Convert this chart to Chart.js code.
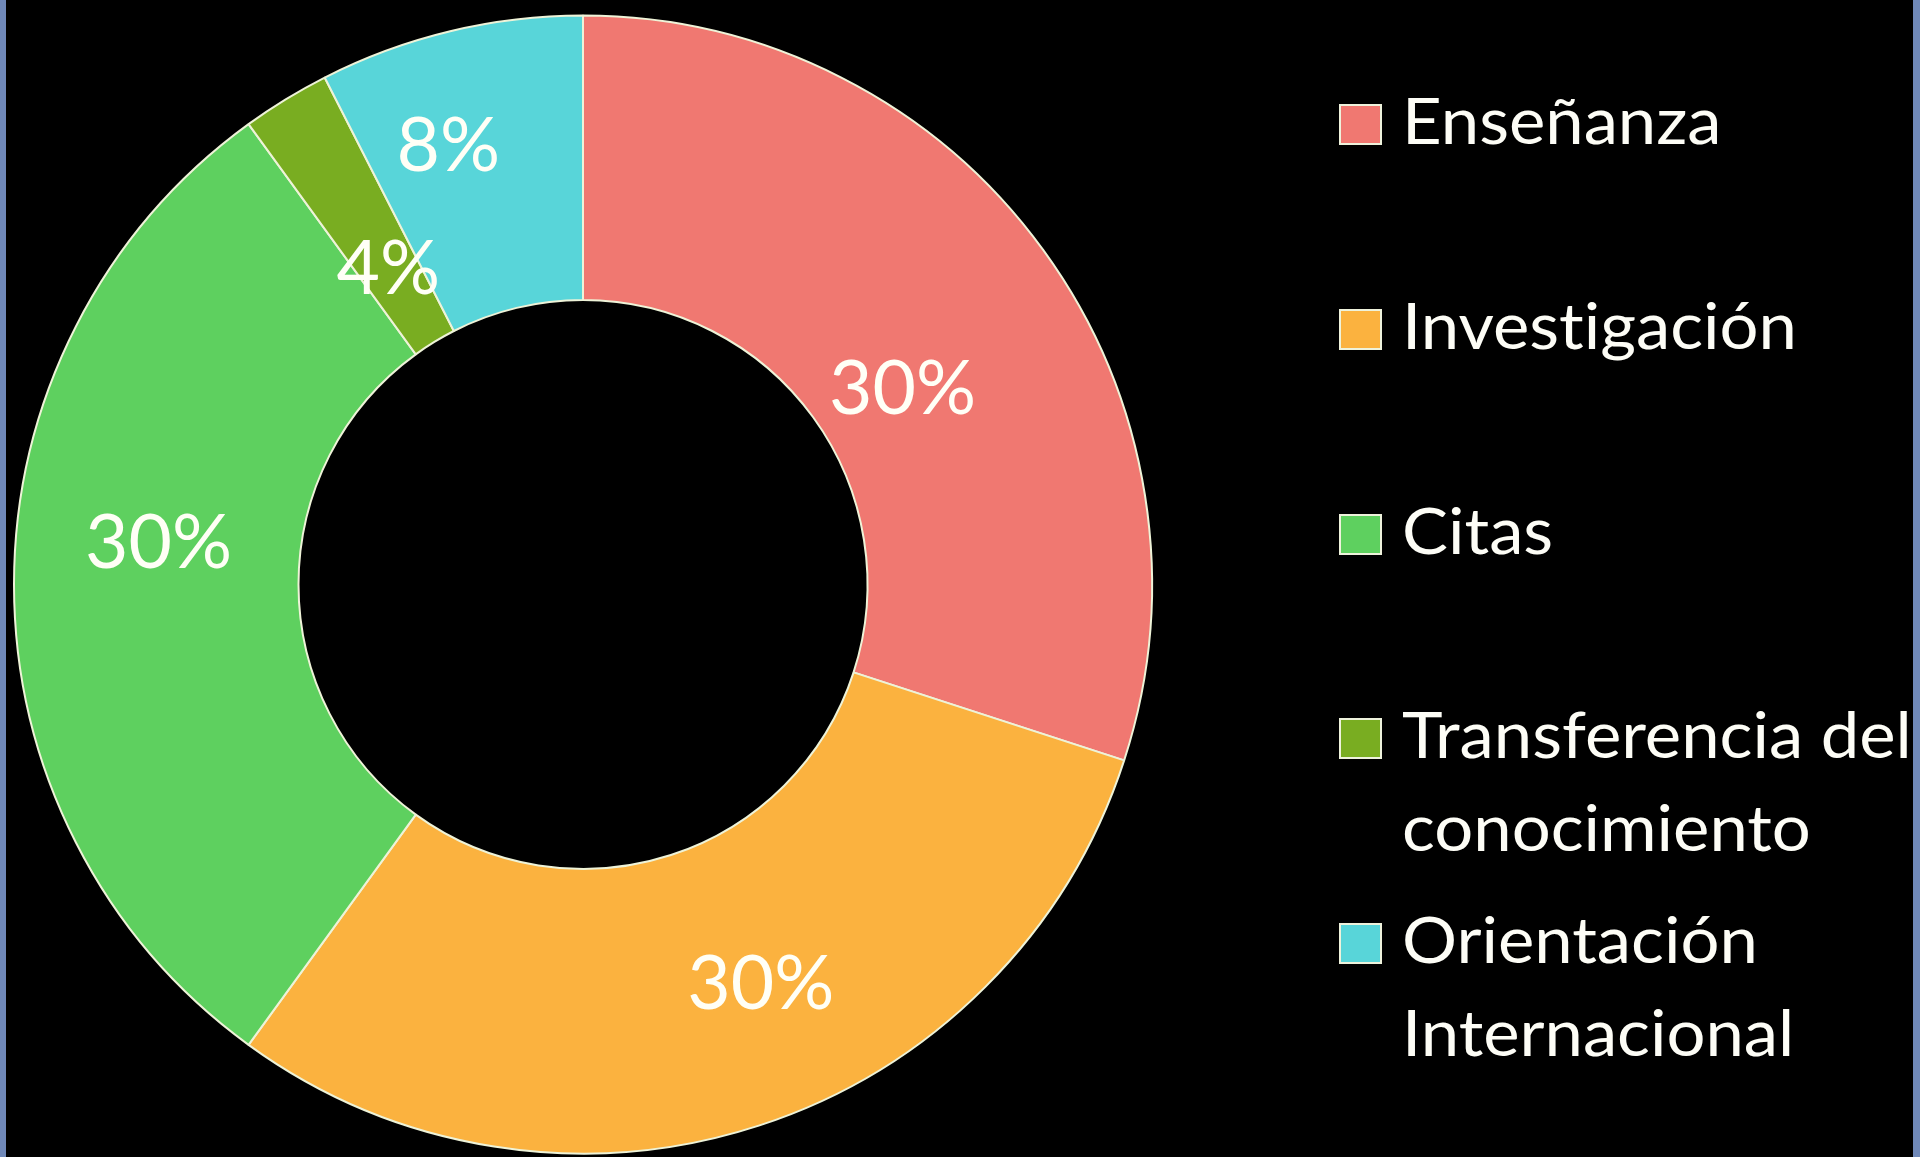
<!DOCTYPE html>
<html>
<head>
<meta charset="utf-8">
<script src="https://cdn.jsdelivr.net/npm/chart.js@4.4.1/dist/chart.umd.min.js"></script>
<style>
  html, body { margin:0; padding:0; background:#000; }
  #wrap { position:relative; width:1920px; height:1157px; background:#000; overflow:hidden; }
  #c { position:absolute; left:0; top:0; }
  .edge { position:absolute; top:0; height:1157px; background:#6f88b8; }
  .item { position:absolute; left:1339px; font-family:Lato, "Open Sans", sans-serif; color:#fdfdf6; }
  .sw { position:absolute; left:0; width:43px; height:41px; box-sizing:border-box; border:2px solid #eef2dc; }
  .tx { position:absolute; left:63px; font-size:64px; line-height:93px; white-space:nowrap; transform-origin:0 0; transform:scaleX(1.075); font-variant-ligatures:none; font-feature-settings:"liga" 0, "clig" 0; }
</style>
</head>
<body>
<div id="wrap">
  <canvas id="c" width="1920" height="1157"></canvas>
  <div class="edge" style="left:0;width:6px;"></div>
  <div class="edge" style="left:1913px;width:7px;"></div>
  <div id="legend"></div>
</div>
<script>
// ---- data ----
const categories = ["Enseñanza", "Investigación", "Citas", "Transferencia del conocimiento", "Orientación Internacional"];
const legendLines = [["Enseñanza"], ["Investigación"], ["Citas"], ["Transferencia del", "conocimiento"], ["Orientación", "Internacional"]];
const values = [30, 30, 30, 2.5, 7.5];
const valueLabels = ["30%", "30%", "30%", "4%", "8%"];
const colors = ["#F07871", "#FBB23F", "#5ED05F", "#79AD21", "#58D5D9"];

// label placement styles (angle shift in degrees from slice mid-angle, radial fraction across ring)
const labelAngleShift = [4.3, -6.1, 5.9, 0, -3.5];
const labelRadiusFrac = [0.32, 0.53, 0.50, 0.31, 0.62];

const labelPlugin = {
  id: 'valueLabels',
  afterDatasetsDraw(chart) {
    const ctx = chart.ctx;
    const meta = chart.getDatasetMeta(0);
    ctx.save();
    const fs = 75;
    ctx.font = fs + 'px Lato, "Open Sans", sans-serif';
    ctx.fillStyle = '#fffff6';
    ctx.textAlign = 'center';
    ctx.textBaseline = 'alphabetic';
    meta.data.forEach((arc, i) => {
      const p = arc.getProps(['x','y','startAngle','endAngle','innerRadius','outerRadius'], true);
      const a = (p.startAngle + p.endAngle) / 2 + labelAngleShift[i] * Math.PI / 180;
      const r = p.innerRadius + labelRadiusFrac[i] * (p.outerRadius - p.innerRadius);
      const x = p.x + Math.cos(a) * r;
      const y = p.y + Math.sin(a) * r;
      ctx.fillText(valueLabels[i], x, y + fs * 0.36);
    });
    ctx.restore();
  }
};

new Chart(document.getElementById('c'), {
  type: 'doughnut',
  data: {
    labels: categories,
    datasets: [{
      data: values,
      backgroundColor: colors,
      borderColor: '#eef3d8',
      borderWidth: 2,
      hoverOffset: 0
    }]
  },
  options: {
    responsive: false,
    animation: false,
    radius: 569,
    cutout: '50%',
    layout: { padding: { left: 0, right: 754, top: 12, bottom: 0 } },
    plugins: { legend: { display: false }, tooltip: { enabled: false } }
  },
  plugins: [labelPlugin]
});

// ---- HTML legend ----
const squareTops = [104, 309, 514, 718, 923];
const lg = document.getElementById('legend');
legendLines.forEach((lines, i) => {
  const it = document.createElement('div');
  it.className = 'item';
  it.style.top = squareTops[i] + 'px';
  const sw = document.createElement('div');
  sw.className = 'sw';
  sw.style.background = colors[i];
  it.appendChild(sw);
  const tx = document.createElement('div');
  tx.className = 'tx';
  tx.style.top = '-31px';
  tx.innerHTML = lines.join('<br>');
  it.appendChild(tx);
  lg.appendChild(it);
});
</script>
</body>
</html>
